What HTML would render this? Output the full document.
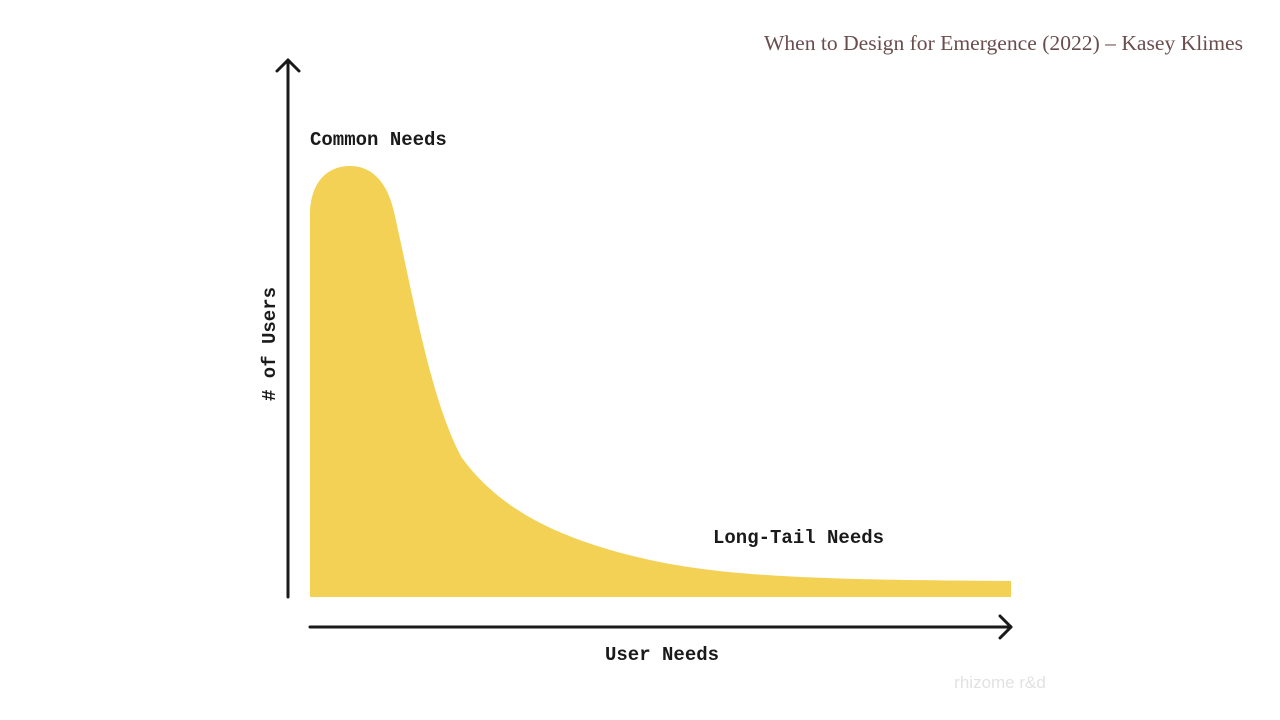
<!DOCTYPE html>
<html><head><meta charset="utf-8"><style>
html,body{margin:0;padding:0;background:#fff;}
svg{display:block}
</style></head><body>
<svg width="1280" height="720" xmlns="http://www.w3.org/2000/svg">
<text x="1243" y="50" text-anchor="end" font-family="Liberation Serif, serif" font-size="21" fill="#6a4e4e" textLength="479" lengthAdjust="spacingAndGlyphs">When to Design for Emergence (2022) – Kasey Klimes</text>
<path d="M310 597 L310 215 C310 185 325 166 350 166 C374 166 388 185 394 212 C412 290 430 400 462 458 C500 510 560 540 650 560 C720 575 800 580 1011 581 L1011 597 Z" fill="#f3d155"/>
<g stroke="#1a1a1a" stroke-width="3" fill="none" stroke-linecap="round" stroke-linejoin="round">
<line x1="288" y1="60" x2="288" y2="597"/>
<polyline points="277,71 288,60 299,71"/>
<line x1="310" y1="627" x2="1011" y2="627"/>
<polyline points="1000,616 1011,627 1000,638"/>
</g>
<g font-family="Liberation Mono, monospace" font-size="19" fill="#1a1a1a" font-weight="bold">
<text x="310" y="145">Common Needs</text>
<text x="713" y="543">Long-Tail Needs</text>
<text x="605" y="660">User Needs</text>
<text transform="translate(275,344) rotate(-90)" text-anchor="middle">#&#160;of Users</text>
</g>
<text x="1000" y="688" text-anchor="middle" font-family="Liberation Sans, sans-serif" font-size="17" fill="#e2e2e2">rhizome r&amp;d</text>
</svg>
</body></html>
